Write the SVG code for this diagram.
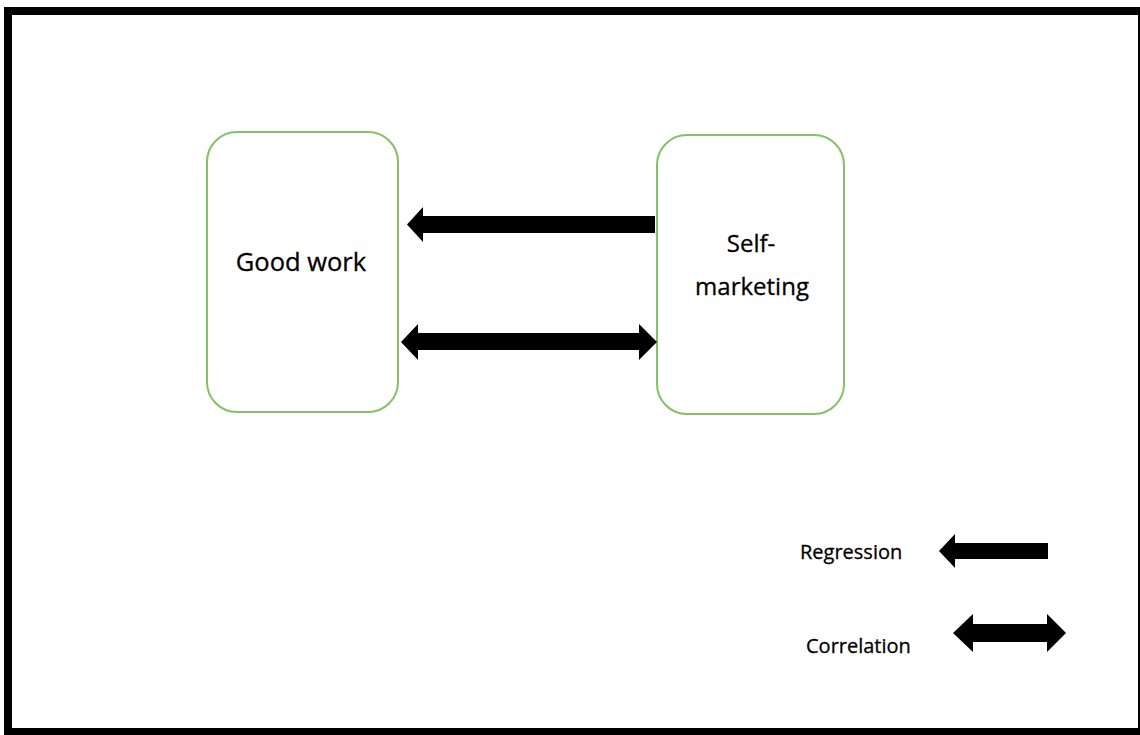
<svg xmlns="http://www.w3.org/2000/svg" width="1140" height="735" viewBox="0 0 1140 735">
<style>
.box{fill:#fff;stroke:#84c165;stroke-width:2}
.lbl{font-family:"Open Sans","Liberation Sans",sans-serif;fill:#000;stroke:#000;stroke-width:0.3}
.arr{fill:#000}
</style>
<rect x="0" y="0" width="1140" height="735" fill="#fff"/>
<rect x="8" y="11" width="1134" height="721" fill="none" stroke="#000" stroke-width="8"/>
<g id="node-good-work">
<rect class="box" x="207" y="132" width="191" height="280" rx="30"/>
<text class="lbl" x="301" y="271" font-size="25.5" text-anchor="middle">Good work</text>
</g>
<g id="node-self-marketing">
<rect class="box" x="657" y="135" width="187" height="279" rx="30"/>
<text class="lbl" x="751" y="252" font-size="24" text-anchor="middle">Self-</text>
<text class="lbl" x="752" y="295" font-size="24" text-anchor="middle">marketing</text>
</g>
<g id="connectors">
<polygon class="arr" points="655,216 423,216 423,207 407,224.5 423,242 423,233 655,233"/>
<polygon class="arr" points="401,342 418,324 418,333 639,333 639,324 657,342 639,360 639,350 418,350 418,360"/>
</g>
<g id="legend">
<text class="lbl" x="800" y="559" font-size="20">Regression</text>
<polygon class="arr" points="1048,543 955,543 955,534 939,551 955,568 955,559 1048,559"/>
<text class="lbl" x="806" y="653" font-size="20">Correlation</text>
<polygon class="arr" points="953,633 973,614 973,624 1047,624 1047,614 1066,633 1047,652 1047,642 973,642 973,652"/>
</g>
</svg>
